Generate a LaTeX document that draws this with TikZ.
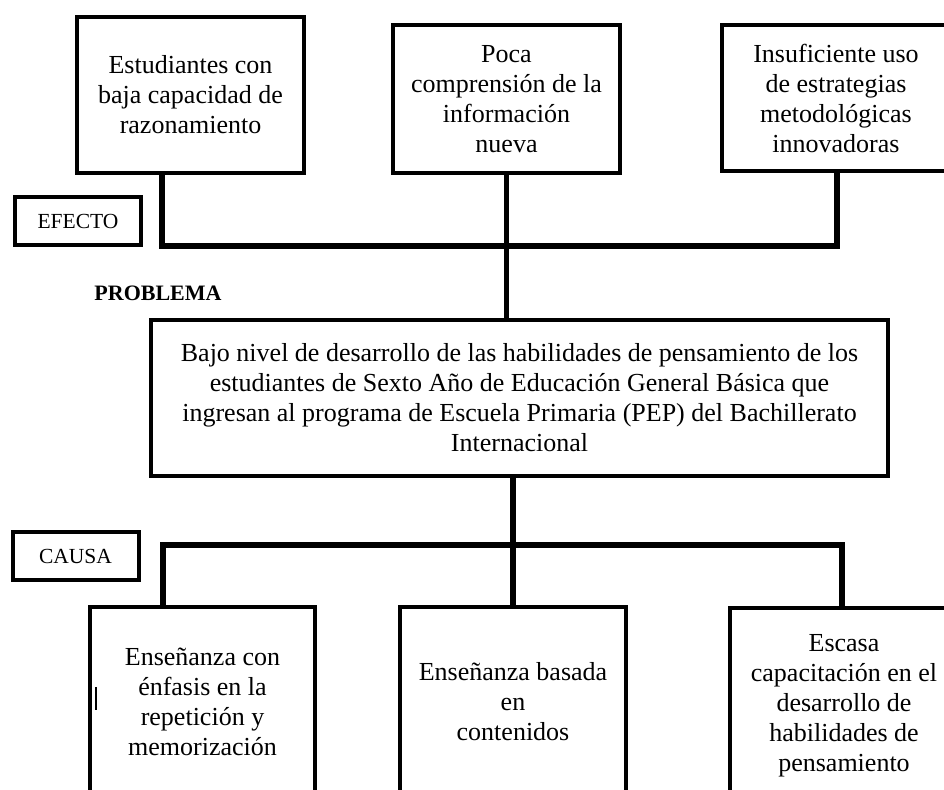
\documentclass[tikz,border=0pt]{standalone}
\usepackage{fontspec}
\setmainfont{Liberation Serif}
\begin{document}
\begin{tikzpicture}[x=1pt,y=-1pt,
	caja/.style={draw, line width=4pt, align=center, inner sep=0pt, font=\fontsize{26}{30}\selectfont},
	etiqueta/.style={draw, line width=4pt, inner sep=0pt, minimum width=126pt, minimum height=48pt, font=\fontsize{21.5}{24}\selectfont},
	conector/.style={line width=5.5pt}]
	\useasboundingbox (0,0) rectangle (944,789);
	
	% efectos
	\node[caja, minimum width=227pt, minimum height=156pt] (ef1) at (190.5,95) {Estudiantes con\\baja capacidad de\\razonamiento};
	\node[caja, minimum width=227pt, minimum height=148pt] (ef2) at (506.5,99) {Poca\\comprensión de la\\información\\nueva};
	\node[caja, minimum width=228pt, minimum height=146pt] (ef3) at (836,98) {Insuficiente uso\\de estrategias\\metodológicas\\innovadoras};
	\node[etiqueta] (efecto) at (78,221) {EFECTO};
	
	% problema
	\node[font=\fontsize{22}{26}\selectfont\bfseries] (tituloProblema) at (158,293) {PROBLEMA};
	\node[caja, minimum width=737pt, minimum height=156pt] (prob) at (519.5,398) {Bajo nivel de desarrollo de las habilidades de pensamiento de los\\estudiantes de Sexto Año de Educación General Básica que\\ingresan al programa de Escuela Primaria (PEP) del Bachillerato\\Internacional};
	
	% causas
	\node[etiqueta] (causa) at (75.5,556) {CAUSA};
	\node[caja, minimum width=225pt, minimum height=190pt] (ca1) at (202.5,702) {Enseñanza con\\énfasis en la\\repetición y\\memorización};
	\node[caja, minimum width=226pt, minimum height=190pt] (ca2) at (513,702) {Enseñanza basada\\en\\contenidos};
	\node[caja, minimum width=228pt, minimum height=196pt] (ca3) at (844,706) {Escasa\\capacitación en el\\desarrollo de\\habilidades de\\pensamiento};
	
	\coordinate (EfBarL) at (162,246);
	\coordinate (EfBarR) at (837,246);
	\coordinate (CaBarL) at (163,545);
	\coordinate (CaBarR) at (842,545);
	
	\draw [conector] (ef1.south -| EfBarL) -- (EfBarL) -- (EfBarR) -- (ef3.south -| EfBarR);% Draw top bar
	\draw [conector] (ef2.south) -- (ef2.south |- prob.north);
	\draw [conector] (ca2.north |- prob.south) -- (ca2.north);
	\draw [conector] (ca1.north -| CaBarL) -- (CaBarL) -- (CaBarR) -- (ca3.north -| CaBarR);% Draw bottom bar
	
	\draw [line width=1.5pt] (96,687) -- (96,710);
	
\end{tikzpicture}
\end{document}
